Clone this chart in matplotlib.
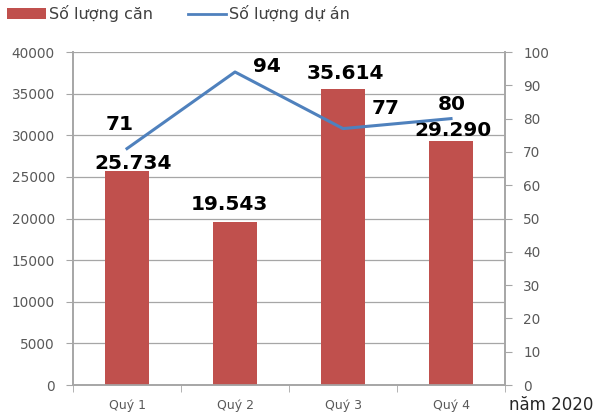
import matplotlib
matplotlib.use("Agg")
import matplotlib.pyplot as plt
import numpy as np
from matplotlib.patches import Patch
from matplotlib.lines import Line2D

categories = ["Quý 1", "Quý 2", "Quý 3", "Quý 4"]
so_luong_can = [25734, 19543, 35614, 29290]
so_luong_du_an = [71, 94, 77, 80]
can_labels = ["25.734", "19.543", "35.614", "29.290"]
left_ticks = [0, 5000, 10000, 15000, 20000, 25000, 30000, 35000, 40000]
right_ticks = [0, 10, 20, 30, 40, 50, 60, 70, 80, 90, 100]

bar_color = "#C0504D"
line_color = "#4F81BD"
grid_color = "#A6A6A6"
tick_color = "#595959"

fig = plt.figure(figsize=(6, 4.16), dpi=100)
ax = fig.add_axes([0.1217, 0.0745, 0.72, 0.8005])
ax2 = ax.twinx()

x = np.arange(len(categories))
ax.bar(x, so_luong_can, width=0.40, color=bar_color, zorder=3)
ax.set_xlim(-0.5, len(categories) - 0.5)
ax.set_ylim(0, 40000)
ax.set_yticks(left_ticks)
ax.set_yticklabels([str(t) for t in left_ticks], fontsize=9.8, color=tick_color)
ax.yaxis.grid(True, color=grid_color, linewidth=0.9, zorder=0)
ax.set_axisbelow(True)

ax.set_xticks(x)
ax.set_xticklabels(categories, fontsize=9, color=tick_color)
ax.tick_params(axis="x", length=0, pad=10)
ax.set_xticks(np.arange(-0.5, len(categories), 1.0), minor=True)
ax.tick_params(axis="x", which="minor", length=5, color=grid_color, direction="out")
ax.tick_params(axis="y", length=5, color=grid_color, direction="out", pad=8)

ax2.plot(x, so_luong_du_an, color=line_color, linewidth=2.2, zorder=4)
ax2.set_ylim(0, 100)
ax2.set_yticks(right_ticks)
ax2.set_yticklabels([str(t) for t in right_ticks], fontsize=9.8, color=tick_color)
ax2.tick_params(axis="y", length=5, color=grid_color, direction="out", pad=8)

for a in (ax, ax2):
    a.spines["top"].set_visible(False)
    for s in ["left", "right", "bottom"]:
        a.spines[s].set_color(grid_color)
        a.spines[s].set_linewidth(1.2)

# bar value labels (offsets in axis units relative to the bar top)
bar_offsets = [(0.06, 930), (-0.05, 2080), (0.02, 1860), (0.02, 1340)]
for i, (v, lab) in enumerate(zip(so_luong_can, can_labels)):
    dx, dy = bar_offsets[i]
    ax.text(x[i] + dx, v + dy, lab, ha="center", va="center",
            fontsize=14.5, fontweight="bold", color="black", zorder=6)

# line value labels
line_offsets = [(-0.07, 7.1), (0.30, 1.5), (0.39, 5.9), (0.01, 4.1)]
for i, v in enumerate(so_luong_du_an):
    dx, dy = line_offsets[i]
    ax2.text(x[i] + dx, v + dy, str(v), ha="center", va="center",
             fontsize=14.5, fontweight="bold", color="black", zorder=6)

# legend
handles = [Patch(facecolor=bar_color, edgecolor="none"),
           Line2D([0], [0], color=line_color, linewidth=2)]
leg = fig.legend(handles, ["Số lượng căn", "Số lượng dự án"], loc="upper left",
                 bbox_to_anchor=(-0.012, 1.022), ncol=2, frameon=False, fontsize=11.5,
                 handlelength=2.4, handletextpad=0.2, columnspacing=2.2)
for t in leg.get_texts():
    t.set_color("#404040")

fig.text(0.918, 0.027, "năm 2020", ha="center", va="center", fontsize=12, color="#262626")

fig.savefig("out.png", dpi=100)
